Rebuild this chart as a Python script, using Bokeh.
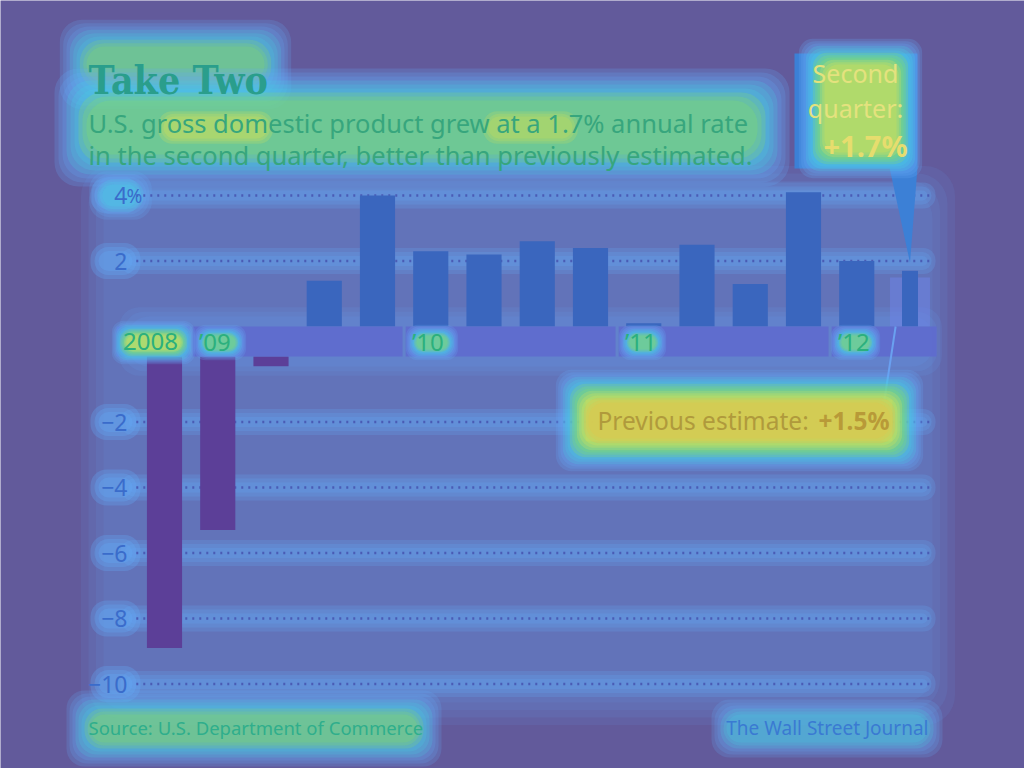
from bokeh.plotting import figure
from bokeh.models import ColumnDataSource, Range1d
from bokeh.core.properties import value
from bokeh.embed import file_html
from bokeh.resources import INLINE

# ---------------- data ----------------
QUARTERS = ["2008 Q4", "2009 Q1", "2009 Q2", "2009 Q3", "2009 Q4",
            "2010 Q1", "2010 Q2", "2010 Q3", "2010 Q4",
            "2011 Q1", "2011 Q2", "2011 Q3", "2011 Q4",
            "2012 Q1", "2012 Q2"]
GDP = [-8.9, -5.3, -0.3, 1.4, 4.0, 2.3, 2.2, 2.6, 2.4, 0.1, 2.5, 1.3, 4.1, 2.0, 1.7]
PREV_ESTIMATE = 1.5
YEAR_KEYS = ["2008", "2009", "2010", "2011", "2012"]
YEAR_LABELS = ["2008", "\u201909", "\u201910", "\u201911", "\u201912"]
Y_TICKS = [4, 2, -2, -4, -6, -8, -10]
Y_TICK_LABELS = ["4%", "2", "\u22122", "\u22124", "\u22126", "\u22128", "\u221210"]
TITLE = "Take Two"
SUBTITLE = ["U.S. gross domestic product grew at a 1.7% annual rate",
            "in the second quarter, better than previously estimated."]
SOURCE = "Source: U.S. Department of Commerce"
CREDIT = "The Wall Street Journal"

# ---------------- layout ----------------
W, H = 1024, 768
X0PX, XSTEP = 164.0, 53.25
Y0PX, YUNIT = 326.0, 32.75
GAP = 30.0 / YUNIT          # height of the date band that splits the axis at zero

def fx(px):
    return (px - X0PX) / XSTEP

def fy(py):
    return (Y0PX - py) / YUNIT

def u(v):
    return v if v >= 0 else v - GAP

BG = "#625a9b"
POS = "#3a66be"
NEG = "#5c3f98"
BAND = "#5f6bcd"
GHOST = "#6e84e6"
CALLOUT = "#3c80d6"
FONT = value("Noto Sans")

p = figure(width=W, height=H, x_range=Range1d(fx(0), fx(W)), y_range=Range1d(fy(H), fy(0)),
           output_backend="svg", toolbar_location=None, min_border=0,
           x_axis_location=None, y_axis_location=None,
           background_fill_color=BG, border_fill_color=BG, outline_line_color=None)
p.grid.visible = False

GLOW = ["#64a8f4", "#45d2e2", "#8ae25a", "#e6e64a", "#f2b642"]


def glow(x0, y0, x1, y1, level, spread=8, alpha=0.2, nsub=3, start=0, radius=14):
    L, R, T, B, C, A = [], [], [], [], [], []
    for k in range(start, level):
        base = (level - 1 - k) * spread
        for j in range(nsub):
            pad = base + (nsub - 1 - j) * spread / nsub + 2
            L.append(fx(x0 - pad)); R.append(fx(x1 + pad))
            T.append(fy(y0 - pad)); B.append(fy(y1 + pad))
            C.append(GLOW[k]); A.append(alpha)
    p.quad(left=L, right=R, top=T, bottom=B, fill_color=C, fill_alpha=A,
           line_color=None, border_radius=radius)


n = len(GDP)
grid_y = [u(t) for t in Y_TICKS]

# soft body of the chart
glow(105, 190, 930, 700, 1, spread=30, alpha=0.1, nsub=4, radius=30)
for gy in grid_y:
    cy = Y0PX - gy * YUNIT
    glow(130, cy - 3, 925, cy + 3, 1, spread=12, alpha=0.24, nsub=3, radius=12)
    glow(100, cy - 8, 130, cy + 8, 1, spread=12, alpha=0.3, nsub=3, radius=16)
# lighter zone around the band
glow(130, 318, 930, 364, 1, spread=14, alpha=0.12, nsub=3, radius=20)

# text glows
glow(88, 48, 262, 80, 3, spread=10, alpha=0.2, radius=22)
glow(88, 102, 755, 152, 3, spread=12, alpha=0.22, radius=24)
glow(165, 118, 265, 136, 4, spread=8, alpha=0.2, start=3)
glow(490, 118, 570, 136, 4, spread=8, alpha=0.18, start=3)
glow(92, 716, 415, 740, 3, spread=9, alpha=0.2, radius=18)
glow(728, 716, 925, 740, 2, spread=9, alpha=0.2, radius=18)
glow(104, 186, 136, 204, 2, spread=8, alpha=0.2, radius=18)

# gridlines
p.segment(x0=[-0.53] * len(grid_y), x1=[n - 1 + 0.45] * len(grid_y), y0=grid_y, y1=grid_y,
          line_color="#4a5cb5", line_width=2.5, line_dash="2 5")

# bars
src = ColumnDataSource(dict(
    x=list(range(n)),
    top=[v if v >= 0 else -GAP for v in GDP],
    bottom=[0 if v >= 0 else v - GAP for v in GDP],
    color=[POS if v >= 0 else NEG for v in GDP],
    w=[0.66] * (n - 1) + [0.3],
))
p.vbar(x=[n - 1], top=[PREV_ESTIMATE], bottom=[0], width=0.75, fill_color=GHOST,
       fill_alpha=0.55, line_color=None)
p.vbar(x="x", top="top", bottom="bottom", width="w", fill_color="color", line_color=None, source=src)

# date band split into years
lefts, rights = [], []
for i, key in enumerate(YEAR_KEYS):
    qs = [j for j, q in enumerate(QUARTERS) if q.startswith(key)]
    lefts.append(min(qs) - (0.9 if i == 0 else 0.5 - 0.03))
    rights.append(max(qs) + (0.5 if i == len(YEAR_KEYS) - 1 else 0.5 - 0.03))
p.quad(left=lefts, right=rights, top=[0] * len(lefts), bottom=[-GAP] * len(lefts),
       fill_color=BAND, fill_alpha=0.95, line_color=None)
for (x0, x1), lev, sp in zip([(128, 178), (206, 233), (418, 445), (631, 653), (843, 867)],
                             [4, 3, 3, 3, 3], [4, 4, 4, 4, 4]):
    glow(x0, 337, x1, 347, lev, spread=sp, alpha=0.22, radius=12)
p.text(x=[l + 0.12 for l in lefts], y=[-GAP / 2] * len(lefts), text=YEAR_LABELS,
       text_font=FONT, text_font_size="24px", text_color="#2bb07e",
       text_align="left", text_baseline="middle")

# y tick labels (the % sign hangs to the right of the number column)
nums = [lab.rstrip("%") for lab in Y_TICK_LABELS]
sfx = [lab[len(nm):] for lab, nm in zip(Y_TICK_LABELS, nums)]
p.text(x=[fx(127)] * len(Y_TICKS), y=grid_y, text=nums, text_font=FONT,
       text_font_size="23px", text_color="#3a6ccb", text_align="right", text_baseline="middle")
p.text(x=[fx(126)] * len(Y_TICKS), y=grid_y, text=sfx, text_font=FONT,
       text_font_size="19px", text_color="#3a6ccb", text_align="left", text_baseline="middle")

# previous-estimate callout
p.segment(x0=[fx(884)], y0=[fy(399)], x1=[n - 1 - 0.27], y1=[0], line_color="#6aa0f0", line_width=2)
glow(590, 404, 888, 436, 5, spread=7, alpha=0.22, radius=16)
p.quad(left=[fx(585)], right=[fx(892)], top=[fy(399)], bottom=[fy(441)], fill_color="#e0e050",
       fill_alpha=0.22, line_color=None)
p.text(x=[fx(597)], y=[fy(420)], text=["Previous estimate:"], text_font=FONT,
       text_font_size="24.5px", text_color="#b09a3c", text_align="left", text_baseline="middle")
p.text(x=[fx(889)], y=[fy(420)], text=["+%.1f%%" % PREV_ESTIMATE], text_font=FONT,
       text_font_style="bold", text_font_size="24.5px", text_color="#b89a38",
       text_align="right", text_baseline="middle")

# second-quarter callout
tip_y = u(GDP[-1]) + 0.25
p.quad(left=[fx(794)], right=[fx(917)], top=[fy(53)], bottom=[fy(168)], fill_color=CALLOUT,
       line_color=None)
p.patch(x=[fx(889), fx(917), n - 1], y=[fy(167), fy(167), tip_y], fill_color=CALLOUT, line_color=None)
glow(826, 66, 894, 150, 4, spread=7, alpha=0.24)
p.text(x=[fx(855)] * 2, y=[fy(72), fy(107)], text=["Second", "quarter:"], text_font=FONT,
       text_font_size="25px", text_color="#e4e27e", text_align="center", text_baseline="middle")
p.text(x=[fx(865)], y=[fy(145)], text=["+%.1f%%" % GDP[-1]], text_font=FONT,
       text_font_style="bold", text_font_size="29px", text_color="#e6dd6e",
       text_align="center", text_baseline="middle")

# titles and footer
p.text(x=[fx(88)], y=[fy(79)], text=[TITLE], text_font=value("DejaVu Serif Condensed, DejaVu Serif"),
       text_font_style="bold", text_font_size="39px", text_color="#2a9e8c",
       text_align="left", text_baseline="alphabetic")
p.text(x=[fx(88)] * 2, y=[fy(122), fy(154)], text=SUBTITLE, text_font=FONT,
       text_font_size="25.5px", text_color="#37a67d", text_align="left", text_baseline="alphabetic")
p.text(x=[fx(88)], y=[fy(727)], text=[SOURCE], text_font=FONT, text_font_size="18.5px",
       text_color="#2fae8c", text_align="left", text_baseline="middle")
p.text(x=[fx(928)], y=[fy(727)], text=[CREDIT], text_font=FONT, text_font_size="19px",
       text_color="#3a7ad2", text_align="right", text_baseline="middle")

open("out.html", "w").write(file_html(p, INLINE))
